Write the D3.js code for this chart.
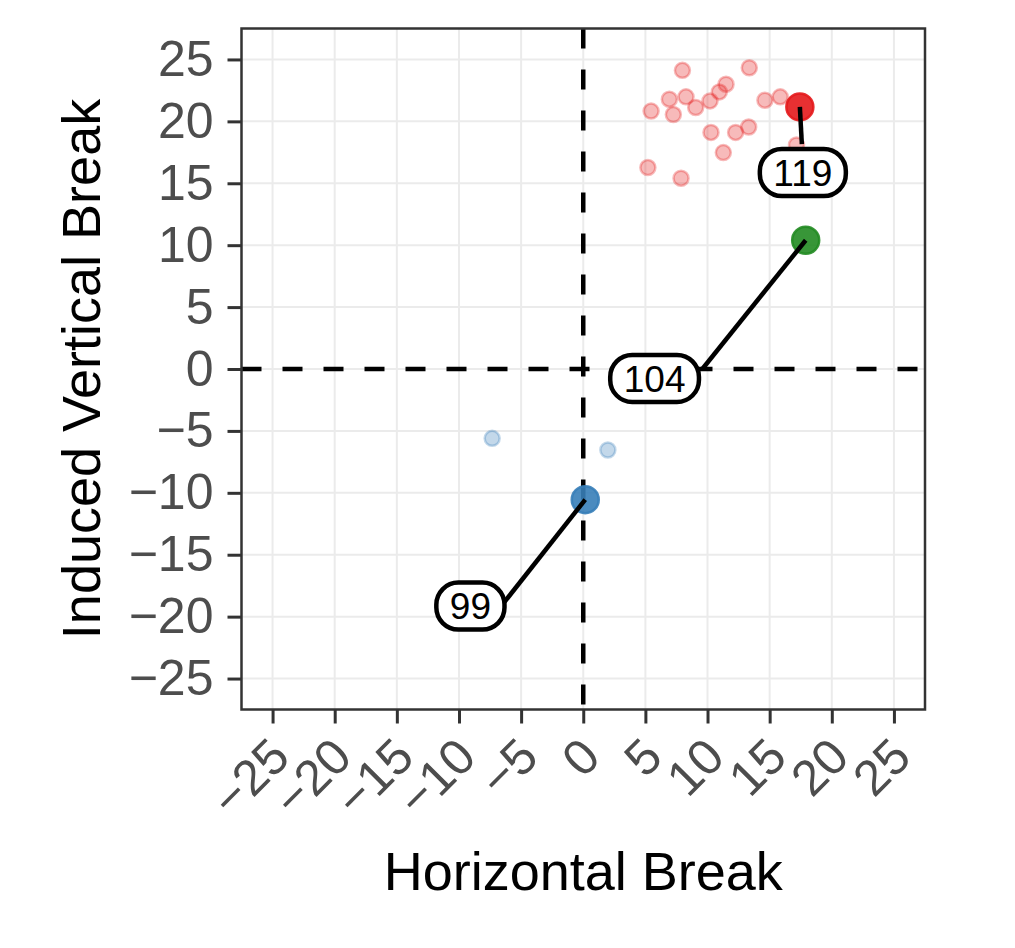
<!DOCTYPE html>
<html>
<head>
<meta charset="utf-8">
<script src="https://cdn.jsdelivr.net/npm/d3@7"></script>
<style>
  body { margin: 0; background: #fff; }
  text { font-family: "Liberation Sans", Arial, Helvetica, sans-serif; }
</style>
</head>
<body>
<div id="chart"></div>
<script>
// background points (faded), one array per cluster
const upX   = [7.98, 13.36, 5.46, 6.93, 7.25, 8.27, 9.05, 10.2, 10.95, 11.49, 10.28, 12.26, 13.31, 11.27, 5.2, 7.87, 14.62, 15.85, 17.16];
const upY   = [24.12, 24.33, 20.83, 21.79, 20.55, 21.98, 21.12, 21.65, 22.38, 23.0, 19.11, 19.11, 19.54, 17.48, 16.27, 15.41, 21.71, 21.98, 18.1];
const downX = [-7.33, 1.98];
const downY = [-5.6, -6.54];

// highlighted points with their labels
const hlId    = ["99", "104", "119"];
const hlGroup = ["down", "mid", "up"];
const hlX     = [0.16, 17.9, 17.43];
const hlY     = [-10.55, 10.4, 21.17];
const labX    = [-9.08, 5.74, 17.67];
const labY    = [-19.15, -0.76, 15.87];
const segX    = [-6.39, 9.55, 17.59];
const segY    = [-18.88, -0.04, 18.16];

const tickVals = [-25, -20, -15, -10, -5, 0, 5, 10, 15, 20, 25];
const xTitle = "Horizontal Break";
const yTitle = "Induced Vertical Break";

function drawChart() {
    const W = 1015, H = 948;
    const margin = {top: 28.5, right: 90, bottom: 238.5, left: 241.5},
        width = W - margin.left - margin.right,
        height = H - margin.top - margin.bottom;

    const colour = d3.scaleOrdinal()
        .domain(["down", "mid", "up"])
        .range(["#377EB8", "#228B22", "#E41A1C"]);

    const x = d3.scaleLinear().domain([-27.5, 27.5]).range([0, width]);
    const y = d3.scaleLinear().domain([-27.5, 27.5]).range([height, 0]);

    const svg = d3.select("#chart")
        .append("svg")
        .attr("width", W)
        .attr("height", H)
        .append("g")
        .attr("transform", `translate(${margin.left},${margin.top})`);

    // grid
    svg.append("g").selectAll("line").data(tickVals).join("line")
        .attr("x1", d => x(d)).attr("x2", d => x(d))
        .attr("y1", 0).attr("y2", height)
        .attr("stroke", "#ebebeb").attr("stroke-width", 2);
    svg.append("g").selectAll("line").data(tickVals).join("line")
        .attr("y1", d => y(d)).attr("y2", d => y(d))
        .attr("x1", 0).attr("x2", width)
        .attr("stroke", "#ebebeb").attr("stroke-width", 2);

    // reference lines at zero
    svg.append("line")
        .attr("x1", x(0)).attr("x2", x(0)).attr("y1", 0).attr("y2", height)
        .attr("stroke", "#000").attr("stroke-width", 4.5).attr("stroke-dasharray", "20 21");
    svg.append("line")
        .attr("y1", y(0)).attr("y2", y(0)).attr("x1", 0).attr("x2", width)
        .attr("stroke", "#000").attr("stroke-width", 4.5).attr("stroke-dasharray", "20 21");

    // faded points
    const faded = upX.map((v, i) => ({x: v, y: upY[i], g: "up"}))
        .concat(downX.map((v, i) => ({x: v, y: downY[i], g: "down"})));
    svg.append("g").selectAll("circle").data(faded).join("circle")
        .attr("cx", d => x(d.x))
        .attr("cy", d => y(d.y))
        .attr("r", 7.5)
        .attr("fill", d => colour(d.g)).attr("fill-opacity", 0.3)
        .attr("stroke", d => colour(d.g)).attr("stroke-opacity", 0.3)
        .attr("stroke-width", 2.5);

    // highlighted points
    const hl = hlId.map((id, i) => ({
        id: id, g: hlGroup[i], x: hlX[i], y: hlY[i],
        lx: labX[i], ly: labY[i], sx: segX[i], sy: segY[i]
    }));
    svg.append("g").selectAll("circle").data(hl).join("circle")
        .attr("cx", d => x(d.x))
        .attr("cy", d => y(d.y))
        .attr("r", 13.5)
        .attr("fill", d => colour(d.g)).attr("fill-opacity", 0.9)
        .attr("stroke", d => colour(d.g)).attr("stroke-opacity", 0.9)
        .attr("stroke-width", 2.5);

    // label segments
    svg.append("g").selectAll("line").data(hl).join("line")
        .attr("x1", d => x(d.x)).attr("y1", d => y(d.y))
        .attr("x2", d => x(d.sx)).attr("y2", d => y(d.sy))
        .attr("stroke", "#000").attr("stroke-width", 4.5);

    // labels
    const lab = svg.append("g").selectAll("g").data(hl).join("g")
        .attr("transform", d => `translate(${x(d.lx)},${y(d.ly)})`);
    lab.append("text")
        .attr("text-anchor", "middle")
        .attr("dy", "0.36em")
        .style("font-size", "37px")
        .attr("fill", "#000")
        .text(d => d.id);
    lab.insert("rect", "text")
        .each(function(d) {
            const tw = this.parentNode.querySelector("text").getComputedTextLength();
            const bw = tw + 27, bh = 47;
            d3.select(this)
                .attr("x", -bw / 2).attr("y", -bh / 2)
                .attr("width", bw).attr("height", bh)
                .attr("rx", 22).attr("ry", 22);
        })
        .attr("fill", "#fff")
        .attr("stroke", "#000")
        .attr("stroke-width", 4.5);

    // panel border
    svg.append("rect")
        .attr("width", width).attr("height", height)
        .attr("fill", "none").attr("stroke", "#333").attr("stroke-width", 2.5);

    const fmt = d => d < 0 ? "\u2212" + Math.abs(d) : String(d);

    // x axis
    const gx = svg.append("g")
        .attr("transform", `translate(0,${height})`)
        .call(d3.axisBottom(x).tickValues(tickVals).tickSize(14).tickFormat(fmt));
    gx.select(".domain").remove();
    gx.selectAll(".tick line").attr("stroke", "#333").attr("stroke-width", 3);
    gx.selectAll(".tick text")
        .attr("x", 19).attr("y", 50).attr("dy", null)
        .attr("text-anchor", "end")
        .attr("transform", "rotate(-45, 19, 50)")
        .attr("fill", "#4d4d4d")
        .style("font-size", "50px")
        .style("font-family", "\"Liberation Sans\", Arial, sans-serif");

    // y axis
    const gy = svg.append("g")
        .call(d3.axisLeft(y).tickValues(tickVals).tickSize(14).tickPadding(14).tickFormat(fmt));
    gy.select(".domain").remove();
    gy.selectAll(".tick line").attr("stroke", "#333").attr("stroke-width", 3);
    gy.selectAll(".tick text")
        .attr("fill", "#4d4d4d")
        .style("font-size", "50px")
        .style("font-family", "\"Liberation Sans\", Arial, sans-serif");

    // axis titles
    svg.append("text")
        .attr("x", width / 2)
        .attr("y", 861.5)
        .attr("text-anchor", "middle")
        .style("font-size", "54px")
        .text(xTitle);

    svg.append("text")
        .attr("transform", `translate(${100 - margin.left},${height / 2}) rotate(-90)`)
        .attr("text-anchor", "middle")
        .style("font-size", "54px")
        .text(yTitle);
}

drawChart();
</script>
</body>
</html>
